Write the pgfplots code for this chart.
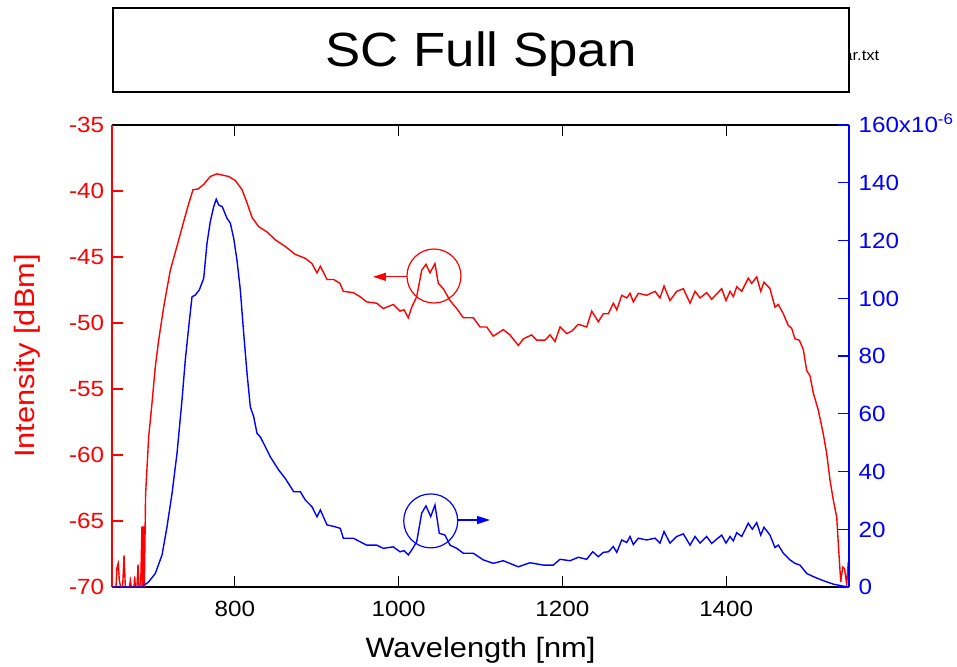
\documentclass[border=0pt]{standalone}
\usepackage{fontspec}
\setmainfont{Liberation Sans}[FakeStretch=1.1]
\usepackage{pgfplots}
\pgfplotsset{compat=1.18}
\usetikzlibrary{arrows.meta}

\newcommand{\tickfont}{\fontsize{11}{13}\selectfont}
\newcommand{\labelfont}{\fontsize{14}{16}\selectfont}

\begin{document}
\begin{tikzpicture}
% left axis: intensity in dBm
\begin{axis}[
  at={(0,0)}, anchor=south west,
  scale only axis, width=368.5pt, height=231pt,
  xmin=650, xmax=1550, ymin=-70, ymax=-35,
  axis y line*=left,
  tick align=inside,
  major tick length=5.5pt,
  xtick={800,1000,1200,1400},
  xticklabels={800,1000,1200,1400},
  ytick={-70,-65,...,-35},
  yticklabels={-70,-65,-60,-55,-50,-45,-40,-35},
  x axis line style={black, line width=0.6pt},
  y axis line style={red, line width=0.6pt},
  xtick style={black, line width=0.6pt},
  ytick style={red, line width=0.6pt},
  xticklabel style={font=\tickfont, anchor=base, inner sep=0pt, yshift=-14.5pt},
  yticklabel style={font=\tickfont, red, anchor=base east, inner sep=0pt, xshift=-3.8pt, yshift=-3.9pt},
  xlabel={Wavelength [nm]},
  xlabel style={font=\labelfont, at={(axis description cs:0.5,-0.1515)}, anchor=base},
  ylabel={Intensity [dBm]},
  ylabel style={font=\labelfont, red, at={(axis description cs:-0.1045,0.5)}, anchor=base},
]
\addplot[red, line width=0.7pt] coordinates {
  (650,-70) (654.9,-70) (656.1,-68.5) (657.7,-68.2) (658.9,-69.5) (660.6,-70)
  (663,-70) (664.7,-67.6) (666.3,-70) (671.2,-70) (672.4,-69.5) (673.6,-70)
  (676.9,-70) (677.7,-69.2) (678.5,-70) (680.5,-70) (681.8,-68.3) (683,-70)
  (685,-70) (686.6,-65.4) (687.5,-70) (688.7,-65.4) (689.5,-70)
  (691,-63.0) (694.8,-58.6) (698.8,-56.1) (702.9,-53.3) (707.0,-51.3)
  (713.1,-48.8) (721.2,-46.0) (731.5,-43.7) (741.6,-41.4) (748.9,-39.9)
  (755.0,-39.85) (762.0,-39.5) (770.0,-38.9) (778.2,-38.7) (792.5,-38.9)
  (800.6,-39.2) (808.8,-39.9) (814.9,-40.9) (821.0,-42.0) (829.1,-42.7)
  (839.3,-43.1) (849.4,-43.7) (861.6,-44.2) (873.8,-44.8) (886.1,-45.1)
  (894.2,-45.5) (900.3,-46.2) (904.4,-45.7) (912.6,-46.7) (920.7,-46.7)
  (928.4,-47.0) (932.5,-47.6) (944.7,-47.7) (952.8,-48.0) (961.0,-48.4)
  (973.2,-48.5) (981.3,-48.9) (993.5,-48.6) (1001.7,-49.1) (1006.6,-49.0)
  (1011.8,-49.6) (1016.0,-48.8) (1022.1,-48.0) (1028.2,-46.0) (1033.4,-45.55)
  (1038.3,-46.2) (1044.4,-45.5) (1048.5,-47.0) (1054.6,-47.4) (1062.8,-48.3)
  (1070.9,-48.9) (1079.0,-49.6) (1091.2,-49.6) (1099.4,-50.3) (1107.6,-50.3)
  (1115.6,-51.0) (1127.8,-50.5) (1136.0,-50.9) (1146.2,-51.7) (1152.3,-51.2)
  (1162.5,-50.9) (1168.6,-51.3) (1178.8,-51.3) (1184.9,-50.9) (1191.0,-51.4)
  (1197.1,-50.3) (1205.3,-50.8) (1211.7,-50.6) (1219.4,-50.1) (1229.7,-50.3)
  (1235.8,-49.1) (1243.9,-49.9) (1250.0,-49.3) (1256.1,-49.3) (1262.2,-48.5)
  (1266.4,-49.0) (1272.5,-47.9) (1278.6,-48.1) (1282.6,-47.75) (1286.6,-48.4)
  (1292.7,-47.75) (1303.0,-47.9) (1313.1,-47.6) (1319.2,-48.1) (1324.1,-47.2)
  (1331.4,-48.3) (1339.6,-47.6) (1347.7,-47.4) (1355.9,-48.5) (1362.0,-47.6)
  (1368.1,-48.1) (1376.2,-47.7) (1382.3,-48.2) (1394.5,-47.4) (1399.8,-48.3)
  (1404.7,-47.6) (1408.7,-48.0) (1412.9,-47.25) (1419.0,-47.6) (1427.0,-46.6)
  (1431.2,-47.0) (1437.3,-46.5) (1442.2,-47.6) (1446.2,-46.9) (1453.5,-47.4)
  (1459.6,-48.8) (1463.7,-48.6) (1469.8,-49.3) (1475.9,-50.2) (1480.0,-50.4)
  (1484.0,-51.2) (1489.3,-51.3) (1494.2,-52.0) (1498.3,-53.6) (1502.4,-54.0)
  (1506.4,-55.3) (1512.5,-56.6) (1518.6,-58.4) (1522.8,-59.9) (1526.8,-61.9)
  (1530.8,-63.4) (1535.0,-64.7) (1536.9,-66.7) (1539.9,-69.6) (1542.3,-68.5)
  (1544.5,-68.6) (1547.2,-69.8) (1549.1,-68.1) (1550,-70)
};
\draw[red, line width=0.6pt] (axis cs:1043.2,-46.44) circle[radius=13.5pt];
\draw[red, line width=0.6pt, -{Triangle[length=6.5pt,width=4pt]}]
  (axis cs:1010.3,-46.5) -- (axis cs:968.7,-46.5);
\end{axis}

% right axis: intensity, linear
\begin{axis}[
  at={(0,0)}, anchor=south west,
  scale only axis, width=368.5pt, height=231pt,
  xmin=650, xmax=1550, ymin=0, ymax=160,
  axis x line=none,
  axis y line*=right,
  tick align=inside,
  major tick length=5.5pt,
  ytick={0,20,...,160},
  yticklabels={0,20,40,60,80,100,120,140,160x10\textsuperscript{-6}},
  y axis line style={blue, line width=0.6pt},
  ytick style={blue, line width=0.6pt},
  yticklabel style={font=\tickfont, blue, anchor=base west, inner sep=0pt, xshift=4.6pt, yshift=-3.9pt},
]
\addplot[blue, line width=0.7pt] coordinates {
  (650,0) (686.6,0) (694.8,1.8) (702.9,4.7) (711.1,11.1) (717.2,20.9)
  (723.3,32.4) (729.4,46.3) (735.5,64.8) (739.5,78.6) (743.7,90.1)
  (747.7,100.5) (751.7,101.1) (756.6,102.9) (762.0,106.9) (766.0,119.0)
  (770.0,126.5) (774.2,131.7) (777.3,134.3) (780.3,132.3) (784.7,131.7)
  (790.4,127.7) (794.5,126.0) (798.6,120.8) (802.6,113.2) (806.7,102.9)
  (810.8,87.9) (814.9,74.0) (818.9,62.4) (823.0,59.0) (827.1,53.2)
  (831.1,52.0) (837.2,48.6) (843.3,45.1) (853.6,40.5) (861.6,37.6)
  (871.9,33.0) (880.0,33.0) (886.1,30.1) (894.2,27.8) (900.3,24.3)
  (904.4,26.7) (912.6,21.5) (920.7,21.0) (928.8,20.3) (932.5,16.9)
  (944.7,16.9) (952.8,15.7) (961.0,14.5) (973.2,14.5) (981.3,13.4)
  (993.5,13.9) (1001.7,12.2) (1006.6,12.6) (1011.8,11.1) (1016.0,12.8)
  (1022.1,15.7) (1028.2,25.6) (1033.4,28.1) (1039.2,24.4) (1044.4,28.4)
  (1049.7,18.6) (1056.6,18.0) (1062.8,14.5) (1070.9,13.4) (1079.0,11.7)
  (1091.2,11.7) (1103.4,9.4) (1115.6,8.2) (1127.8,9.1) (1146.2,7.0)
  (1160.4,8.4) (1176.7,7.6) (1188.9,7.6) (1197.1,9.6) (1209.3,9.1)
  (1219.4,10.3) (1229.7,9.6) (1237.0,12.2) (1243.9,10.5) (1250.0,12.0)
  (1256.1,12.2) (1262.2,14.0) (1266.4,12.0) (1272.5,16.3) (1278.6,15.4)
  (1282.6,17.5) (1286.6,14.7) (1292.7,16.9) (1303.0,16.3) (1313.1,16.9)
  (1319.2,15.2) (1324.1,19.2) (1331.4,15.2) (1339.6,17.5) (1347.7,18.4)
  (1355.9,14.5) (1362.0,17.5) (1368.1,15.2) (1376.2,17.5) (1382.3,15.1)
  (1394.5,18.0) (1399.8,15.2) (1404.7,17.5) (1408.7,16.0) (1412.9,18.8)
  (1419.0,17.5) (1427.0,22.1) (1431.9,20.0) (1437.3,22.3) (1442.2,18.0)
  (1446.2,20.7) (1453.5,18.0) (1459.6,13.7) (1463.7,14.5) (1469.8,11.7)
  (1478.0,9.4) (1484.0,8.2) (1490.1,7.6) (1498.3,4.7) (1506.4,3.6)
  (1518.6,2.2) (1530.8,1.0) (1543.0,0.3) (1550,0)
};
\draw[blue, line width=0.6pt] (axis cs:1039.2,22.9) circle[radius=13.5pt];
\draw[blue, line width=0.6pt, -{Triangle[length=6.5pt,width=4pt]}]
  (axis cs:1071.3,23.2) -- (axis cs:1111.6,23.2);
\end{axis}

% title box, partly covering a file name
\node[anchor=base west, font=\fontsize{7.5}{9}\selectfont, inner sep=0pt] at (365.5pt,263.5pt) {ar.txt};
\draw[black, line width=1pt, fill=white] (0.5pt,247.5pt) rectangle (368.5pt,289.5pt);
\node[anchor=base, font=\fontsize{24}{27}\selectfont, inner sep=0pt] at (184.5pt,260.2pt) {SC Full Span};

\pgfresetboundingbox
\path[use as bounding box] (-56pt,-39.5pt) rectangle (422.5pt,293.5pt);
\end{tikzpicture}
\end{document}
